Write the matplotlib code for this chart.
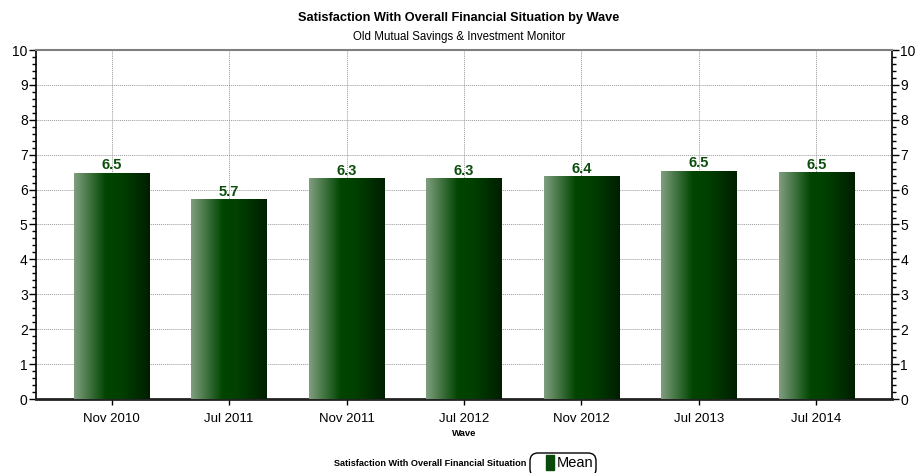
import matplotlib
matplotlib.use("Agg")
import matplotlib.pyplot as plt
import numpy as np
from matplotlib.colors import LinearSegmentedColormap
from matplotlib.patches import FancyBboxPatch, Rectangle
from matplotlib.ticker import MultipleLocator
from matplotlib.transforms import IdentityTransform

plt.rcParams['font.family'] = ['Liberation Sans', 'DejaVu Sans']

waves = ["Nov 2010", "Jul 2011", "Nov 2011", "Jul 2012", "Nov 2012", "Jul 2013", "Jul 2014"]
mean_scores = [6.48, 5.73, 6.33, 6.33, 6.39, 6.54, 6.49]

title = "Satisfaction With Overall Financial Situation by Wave"
subtitle = "Old Mutual Savings & Investment Monitor"
x_label = "Wave"
legend_caption = "Satisfaction With Overall Financial Situation"
series_name = "Mean"
series_color = "#0a4a0a"

green_grad = LinearSegmentedColormap.from_list(
    "green_grad",
    [(0.0, (0.50, 0.62, 0.50)),
     (0.42, (0.0, 0.27, 0.0)),
     (0.62, (0.0, 0.25, 0.0)),
     (1.0, (0.0, 0.12, 0.0))])

W, H = 918, 473
fig = plt.figure(figsize=(W / 100, H / 100), dpi=100)
ax = fig.add_axes([36 / W, 1 - 399 / H, (892 - 36) / W, (399 - 50) / H])

x = np.arange(len(waves))
width = 0.644
bars = ax.bar(x, mean_scores, width=width, color="none", edgecolor="none", zorder=3)

# horizontal gradient fill clipped to each bar
grad = np.linspace(0, 1, 256).reshape(1, -1)
for rect in bars:
    x0 = rect.get_x()
    h = rect.get_height()
    im = ax.imshow(grad, cmap=green_grad, aspect="auto",
                   extent=[x0, x0 + rect.get_width(), 0, h], zorder=3,
                   interpolation="bilinear")
    im.set_clip_path(rect)

for xi, v in zip(x, mean_scores):
    ax.text(xi, v + 0.01, f"{v:.1f}", ha="center", va="bottom",
            fontsize=10.5, fontweight="bold", color="#0b4d0b", zorder=4)

ax.set_xlim(-0.644, len(waves) - 1 + 0.644)
ax.set_ylim(0, 10)
ax.set_xticks(x)
ax.set_xticklabels(waves, fontsize=9.5)
ax.yaxis.set_major_locator(MultipleLocator(1))
ax.yaxis.set_minor_locator(MultipleLocator(0.2))
ax.tick_params(axis="y", which="major", length=5, width=1, labelsize=10,
               left=True, right=True, labelleft=True, labelright=True, pad=1)
ax.tick_params(axis="y", which="minor", length=3, width=1, left=True, right=True)
ax.tick_params(axis="x", which="major", length=4, width=1, pad=6)

ax.grid(True, which="major", color="#999999", linestyle=(0, (1, 1)), linewidth=0.7, zorder=0)
ax.set_axisbelow(True)

ax.spines["top"].set_color("#7f7f7f")
ax.spines["top"].set_linewidth(1.5)
ax.spines["bottom"].set_color("#222222")
ax.spines["bottom"].set_linewidth(2)
ax.spines["left"].set_linewidth(1.2)
ax.spines["right"].set_linewidth(1.2)

ax.set_xlabel(x_label, fontsize=6.8, fontweight="bold", labelpad=3)

fig.text(0.5, 1 - 18 / H, title, ha="center", va="center", fontsize=9.2, fontweight="bold")
fig.text(0.5, 1 - 37 / H, subtitle, ha="center", va="center", fontsize=8.3)

# legend: caption, rounded box, colour swatch and series name (pixel coordinates)
px = IdentityTransform()
fig.text(526 / W, 1 - 463 / H, legend_caption, ha="right", va="center",
         fontsize=6.6, fontweight="bold")
box = FancyBboxPatch((530, -4), 66, 24,
                     boxstyle="round,pad=0,rounding_size=8",
                     transform=px, facecolor="white",
                     edgecolor="black", linewidth=1)
fig.add_artist(box)
fig.add_artist(Rectangle((546, 3), 8, 15, transform=px,
                         facecolor=series_color, edgecolor=series_color))
fig.text(557 / W, 1 - 463 / H, series_name, ha="left", va="center", fontsize=10.5)

fig.savefig("out.png", dpi=100)
